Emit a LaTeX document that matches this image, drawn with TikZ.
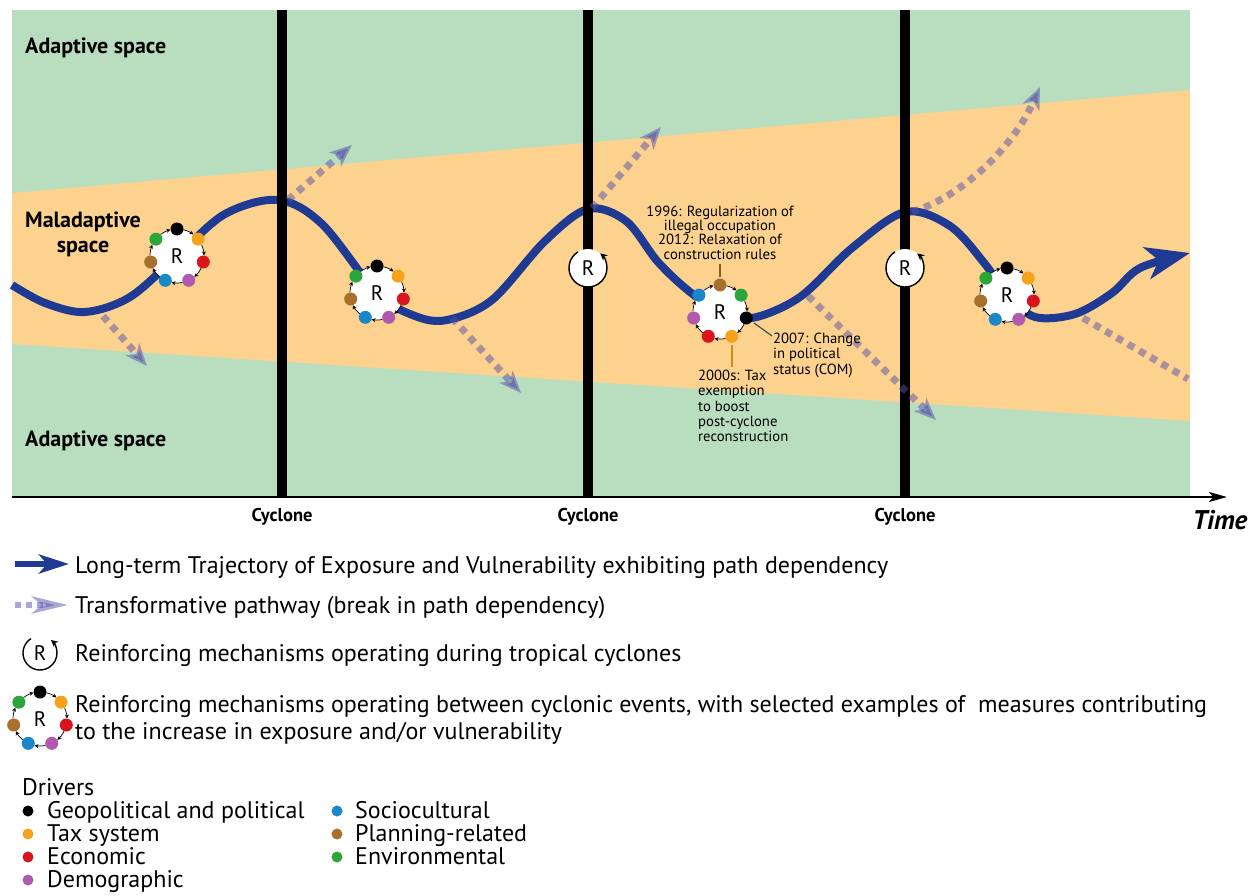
\documentclass[tikz,border=0pt]{standalone}
\usepackage{fontspec}
\setmainfont{PT Sans}
\usetikzlibrary{arrows.meta}
\definecolor{bggreen}{RGB}{185,221,191}
\definecolor{bgorange}{RGB}{253,210,142}
\definecolor{trajblue}{RGB}{31,58,147}
\definecolor{transcol}{RGB}{85,80,170}
\definecolor{cblack}{RGB}{0,0,0}
\definecolor{corange}{RGB}{247,162,27}
\definecolor{cred}{RGB}{218,20,28}
\definecolor{cpurple}{RGB}{176,90,175}
\definecolor{cblue}{RGB}{26,135,201}
\definecolor{cbrown}{RGB}{168,112,43}
\definecolor{cgreen}{RGB}{43,166,56}
\newcommand{\fsz}[1]{\fontsize{#1}{#1}\selectfont}
\tikzset{
  traj/.style={line width=8pt, draw=trajblue, -{Stealth[length=44pt,width=32pt,inset=12pt]}},
  trans/.style={line width=7pt, draw=transcol, opacity=0.5, dash pattern=on 7pt off 6pt, -{Stealth[length=22pt,width=18pt,inset=6pt]}},
  transnohead/.style={line width=7pt, draw=transcol, opacity=0.5, dash pattern=on 7pt off 6pt},
  cycbar/.style={line width=10pt, draw=black},
  spacelabel/.style={font=\bfseries\fsz{22}, inner sep=0pt},
  cyclabel/.style={font=\bfseries\fsz{18.5}, inner sep=0pt, anchor=base},
  annot/.style={font=\fsz{14.7}, inner sep=0pt},
  legtext/.style={font=\fsz{24}, inner sep=0pt, anchor=base west},
  drvtext/.style={font=\fsz{24}, inner sep=0pt, anchor=base west},
  rlabel/.style={font=\fsz{21}, inner sep=0pt},
  ringarrow/.style={line width=0.7pt, draw=black, -{Stealth[length=4pt,width=4pt]}},
  rarc/.style={line width=1.4pt, draw=black, -{Stealth[length=7pt,width=7pt]}},
}
% cluster: #1 coordinate name, #2 rotation offset (deg)
\newcommand{\drawcluster}[2]{%
  \fill[white] (#1) circle[radius=27pt];
  \foreach \c [count=\i from 0] in {cblack,corange,cred,cpurple,cblue,cbrown,cgreen} {
    \pgfmathsetmacro\a{90+#2-\i*51.4286}
    \pgfmathsetmacro\sa{\a-14}
    \pgfmathsetmacro\ea{\a-37.4}
    \draw[ringarrow] (#1) ++(\sa:27pt) arc[start angle=\sa, end angle=\ea, radius=27pt];
    \fill[\c] (#1) ++(\a:27pt) circle[radius=6.5pt];
  }
  \node[rlabel] (#1R) at (#1) {R};
}
% cyclone R: #1 coordinate name, #2 radius
\newcommand{\drawrcirc}[2]{%
  \fill[white] (#1) circle[radius=#2];
  \draw[rarc] (#1) ++(122:#2) arc[start angle=122, end angle=410, radius=#2];
  \node[rlabel] (#1R) at (#1) {R};
}
\begin{document}
\begin{tikzpicture}[x=1pt,y=-1pt]
\useasboundingbox (0,0) rectangle (1258,896);
% background
\fill[bggreen] (12,10) rectangle (1190,497);
\fill[bgorange] (12,193) -- (1190,90) -- (1190,421) -- (12,344) -- cycle;
% labels of spaces
\node[spacelabel, anchor=base west] (adtop) at (25,54) {Adaptive space};
\node[spacelabel, anchor=base] (mal1) at (83,228) {Maladaptive};
\node[spacelabel, anchor=base] (mal2) at (83,252) {space};
\node[spacelabel, anchor=base west] (adbot) at (25,446) {Adaptive space};
% trajectory
\draw[traj] plot[smooth, tension=0.55] coordinates {(12,285) (45,303) (85,312) (130,297) (177,256) (225,214) (278,200) (322,224) (377,293) (415,316) (447,320) (492,300) (545,241) (588,209) (626,221) (658,262) (690,292) (720,311) (752,318) (800,297) (852,248) (905,212) (950,226) (985,264) (1007,295) (1035,317) (1075,314) (1112,293) (1140,268) (1190,253)};
% cyclone bars
\draw[cycbar] (282,10) -- (282,497);
\draw[cycbar] (588,10) -- (588,497);
\draw[cycbar] (905,10) -- (905,497);
% time axis
\draw[line width=1.5pt, -{Stealth[length=18pt,width=10pt,inset=4pt]}] (12,497) -- (1227,497);
\node[cyclabel] (cy1) at (282,521) {Cyclone};
\node[cyclabel] (cy2) at (588,521) {Cyclone};
\node[cyclabel] (cy3) at (905,521) {Cyclone};
\node[font=\bfseries\itshape\fsz{27}, inner sep=0pt, anchor=base] (time) at (1220,529) {Time};
% transformative pathways
\draw[trans] (103,316) -- (147,366);
\draw[trans] (288,200) -- (352,145);
\draw[trans] (452,318) -- (521,393);
\draw[trans] (592,208) -- (661,127);
\draw[trans] (808,296) -- (936,420);
\draw[trans] (912,212) .. controls (960,197) and (1012,150) .. (1040,87);
\draw[transnohead] (1083,318) -- (1188,379);
% cyclone R circles
\coordinate (rc1) at (588,268);
\coordinate (rc2) at (905,268);
\drawrcirc{rc1}{19pt}
\drawrcirc{rc2}{19pt}
% clusters
\coordinate (cl1) at (177,256);
\coordinate (cl2) at (377,293);
\coordinate (cl3) at (720,312);
\coordinate (cl4) at (1007,295);
\drawcluster{cl1}{0}
\drawcluster{cl2}{0}
\drawcluster{cl3}{-102.857}
\drawcluster{cl4}{0}
% annotations
\node[annot, anchor=base, align=center] (an1) at (720,259) {1996: Regularization of\\[-0.5pt]illegal occupation\\[-0.5pt]2012: Relaxation of\\[-0.5pt]construction rules};
\node[annot, anchor=base west] (an2a) at (773,343) {2007: Change};
\node[annot, anchor=base west] (an2b) at (773,358) {in political};
\node[annot, anchor=base west] (an2c) at (773,374) {status (COM)};
\node[annot, anchor=base west] (an3a) at (698,380) {2000s: Tax};
\node[annot, anchor=base west] (an3b) at (698,395) {exemption};
\node[annot, anchor=base west] (an3c) at (698,411) {to boost};
\node[annot, anchor=base west] (an3d) at (698,426) {post-cyclone};
\node[annot, anchor=base west] (an3e) at (698,441) {reconstruction};
\draw[line width=1.2pt, draw=cbrown!80!black] (720,277) -- (720,264);
\draw[line width=1.2pt, draw=corange!85!black] (732,345) -- (732,367);
\draw[line width=1.2pt, draw=black!70] (754,323) -- (772,336);
% legend
\draw[line width=6pt, draw=trajblue, -{Stealth[length=30pt,width=19pt,inset=8pt]}] (15,564) -- (69,564);
\node[legtext] (lg1) at (75,573) {Long-term Trajectory of Exposure and Vulnerability exhibiting path dependency};
\draw[line width=6pt, draw=transcol, opacity=0.5, dash pattern=on 6pt off 5pt, -{Stealth[length=36pt,width=17pt,inset=10pt]}] (15,605) -- (68,605);
\node[legtext] (lg2) at (75,613) {Transformative pathway (break in path dependency)};
\coordinate (lgr) at (40,653);
\drawrcirc{lgr}{17pt}
\node[legtext] (lg3) at (75,661) {Reinforcing mechanisms operating during tropical cyclones};
\coordinate (lgc) at (40,719);
\drawcluster{lgc}{0}
\node[legtext] (lg4a) at (75,712) {Reinforcing mechanisms operating between cyclonic events, with selected examples of\ \ measures contributing};
\node[legtext] (lg4b) at (75,739) {to the increase in exposure and/or vulnerability};
% drivers
\node[drvtext] (drv) at (22,795) {Drivers};
\fill[cblack] (28,811) circle[radius=5.5pt];
\node[drvtext] (d1) at (47,818) {Geopolitical and political};
\fill[corange] (28,834) circle[radius=5.5pt];
\node[drvtext] (d2) at (47,841) {Tax system};
\fill[cred] (28,857) circle[radius=5.5pt];
\node[drvtext] (d3) at (47,864) {Economic};
\fill[cpurple] (28,880) circle[radius=5.5pt];
\node[drvtext] (d4) at (47,887) {Demographic};
\fill[cblue] (337,811) circle[radius=5.5pt];
\node[drvtext] (d5) at (355,818) {Sociocultural};
\fill[cbrown] (337,834) circle[radius=5.5pt];
\node[drvtext] (d6) at (355,841) {Planning-related};
\fill[cgreen] (337,857) circle[radius=5.5pt];
\node[drvtext] (d7) at (355,864) {Environmental};
\end{tikzpicture}
\end{document}
